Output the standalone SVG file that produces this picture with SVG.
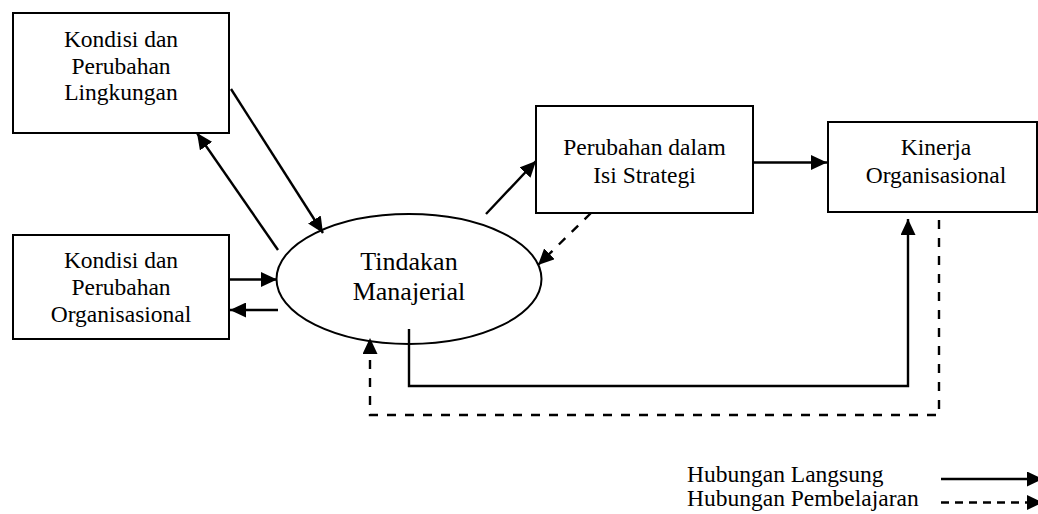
<svg xmlns="http://www.w3.org/2000/svg" width="1038" height="514" viewBox="0 0 1038 514">
  <style>
    .box { fill: #fff; stroke: #000; stroke-width: 2; }
    .lbl { font-family: "Liberation Serif", "Times New Roman", serif; font-size: 23.5px; fill: #000; text-anchor: middle; }
    .big { font-size: 26px; }
    .leg { text-anchor: start; }
    .solid { fill: none; stroke: #000; stroke-width: 2.4; }
    .dash { fill: none; stroke: #000; stroke-width: 2.4; stroke-dasharray: 9 9; }
    .dashleg { fill: none; stroke: #000; stroke-width: 2.4; stroke-dasharray: 8 6; }
  </style>
  <defs>
    <marker id="arrow" markerUnits="userSpaceOnUse" markerWidth="17" markerHeight="15" refX="16" refY="7.5" orient="auto">
      <path d="M0,0 L16,7.5 L0,15 z" fill="#000"/>
    </marker>
  </defs>
  <rect width="1038" height="514" fill="#fff"/>

  <g id="lingkungan">
    <rect class="box" x="13" y="13" width="216" height="120"/>
    <text class="lbl" x="121" y="47">Kondisi dan</text>
    <text class="lbl" x="121" y="73.5">Perubahan</text>
    <text class="lbl" x="121" y="100">Lingkungan</text>
  </g>

  <g id="organisasional">
    <rect class="box" x="13" y="235" width="216" height="104"/>
    <text class="lbl" x="121" y="268">Kondisi dan</text>
    <text class="lbl" x="121" y="295">Perubahan</text>
    <text class="lbl" x="121" y="322">Organisasional</text>
  </g>

  <g id="tindakan">
    <ellipse class="box" cx="409" cy="279" rx="132.5" ry="65"/>
    <text class="lbl big" x="409" y="270">Tindakan</text>
    <text class="lbl big" x="409" y="300">Manajerial</text>
  </g>

  <g id="strategi">
    <rect class="box" x="536" y="106" width="217" height="107"/>
    <text class="lbl" x="644.5" y="155">Perubahan dalam</text>
    <text class="lbl" x="644.5" y="182.5">Isi Strategi</text>
  </g>

  <g id="kinerja">
    <rect class="box" x="828" y="122" width="209" height="90"/>
    <text class="lbl" x="936" y="155">Kinerja</text>
    <text class="lbl" x="936" y="182.5">Organisasional</text>
  </g>

  <g id="connectors">
    <!-- direct relations -->
    <line class="solid" x1="231" y1="89" x2="323" y2="233" marker-end="url(#arrow)"/>
    <line class="solid" x1="278" y1="250" x2="197" y2="133" marker-end="url(#arrow)"/>
    <line class="solid" x1="229" y1="279.5" x2="277" y2="279.5" marker-end="url(#arrow)"/>
    <line class="solid" x1="278" y1="310" x2="230" y2="310" marker-end="url(#arrow)"/>
    <line class="solid" x1="486" y1="214" x2="536" y2="161" marker-end="url(#arrow)"/>
    <line class="solid" x1="754" y1="162.5" x2="827" y2="162.5" marker-end="url(#arrow)"/>
    <polyline class="solid" points="409,329 409,386 908,386 908,219" marker-end="url(#arrow)"/>
    <!-- learning relations -->
    <line class="dash" x1="591" y1="213" x2="538" y2="265" marker-end="url(#arrow)"/>
    <polyline class="dash" points="939,220 939,415 370,415 370,338" marker-end="url(#arrow)"/>
  </g>

  <g id="legend">
    <text class="lbl leg" x="687" y="482">Hubungan Langsung</text>
    <text class="lbl leg" x="687" y="506">Hubungan Pembelajaran</text>
    <line class="solid" x1="941" y1="479" x2="1043" y2="479" marker-end="url(#arrow)"/>
    <line class="dashleg" x1="941" y1="502.5" x2="1043" y2="502.5" marker-end="url(#arrow)"/>
  </g>
</svg>
